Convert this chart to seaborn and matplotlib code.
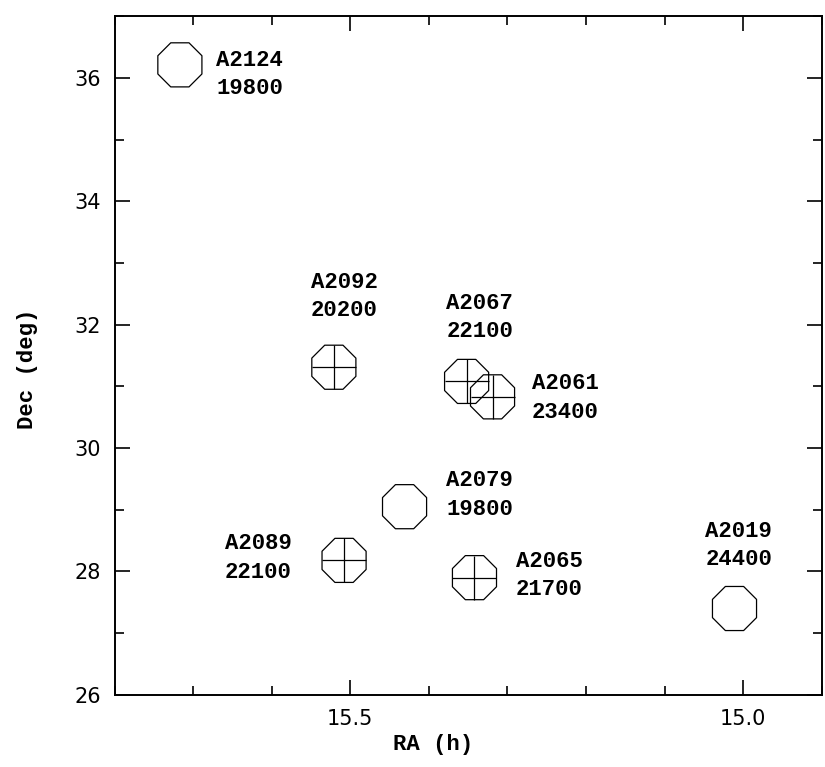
import matplotlib
matplotlib.use("Agg")
import matplotlib.pyplot as plt
from matplotlib.ticker import MultipleLocator, FormatStrFormatter
import seaborn as sns
import pandas as pd

# ---- data ----
names = ["A2124", "A2092", "A2067", "A2061", "A2079", "A2089", "A2065", "A2019"]
velocity = ["19800", "20200", "22100", "23400", "19800", "22100", "21700", "24400"]
ra = [15.717, 15.521, 15.352, 15.319, 15.431, 15.508, 15.342, 15.011]
dec = [36.21, 31.31, 31.08, 30.83, 29.05, 28.18, 27.90, 27.40]
crossed = [False, True, True, True, False, True, True, False]
label_ra = [15.671, 15.550, 15.378, 15.269, 15.378, 15.660, 15.289, 15.048]
label_dec = [36.06, 32.45, 32.12, 30.81, 29.24, 28.22, 27.94, 28.42]

df = pd.DataFrame({"RA": ra, "Dec": dec, "name": names, "v": velocity,
                   "crossed": crossed})

sns.set_style("ticks")
plt.rcParams["font.family"] = ["DejaVu Sans"]
plt.rcParams.update({"text.color": "black", "axes.labelcolor": "black",
                     "xtick.color": "black", "ytick.color": "black",
                     "axes.edgecolor": "black"})

MONO = ["Liberation Mono", "DejaVu Sans Mono"]

fig = plt.figure(figsize=(8.25, 7.67), dpi=100)
ax = fig.add_axes([0.139, 0.094, 0.857, 0.885])

sns.scatterplot(data=df, x="RA", y="Dec", marker="8", s=1180,
                facecolor="none", edgecolor="black", linewidth=0.9,
                legend=False, ax=ax, zorder=3)
sns.scatterplot(data=df[df["crossed"]], x="RA", y="Dec", marker="+", s=1000,
                color="black", linewidth=0.9, legend=False, ax=ax, zorder=3)

for nm, vv, lx, ly in zip(names, velocity, label_ra, label_dec):
    ax.text(lx, ly, f"{nm}\n{vv}", ha="left", va="center",
            family=MONO, fontsize=16, fontweight="bold",
            linespacing=1.45, color="black")

ax.set_xlim(15.8, 14.9)
ax.set_ylim(26, 37)
ax.xaxis.set_major_locator(MultipleLocator(0.5))
ax.xaxis.set_minor_locator(MultipleLocator(0.1))
ax.xaxis.set_major_formatter(FormatStrFormatter("%.1f"))
ax.yaxis.set_major_locator(MultipleLocator(2))
ax.yaxis.set_minor_locator(MultipleLocator(1))
ax.yaxis.set_major_formatter(FormatStrFormatter("%d"))

ax.tick_params(which="both", direction="in", top=True, right=True,
               color="black", width=1.2, labelcolor="black")
ax.tick_params(which="major", length=11, labelsize=15, pad=10)
ax.tick_params(which="minor", length=6.5)
for sp in ax.spines.values():
    sp.set_linewidth(1.4)
    sp.set_color("black")

ax.set_xlabel("RA (h)", family=MONO, fontsize=16, fontweight="bold",
              color="black")
ax.set_ylabel("Dec (deg)", family=MONO, fontsize=16, fontweight="bold",
              color="black")
ax.xaxis.set_label_coords(0.45, -0.058)
ax.yaxis.set_label_coords(-0.108, 0.48)

fig.savefig("out.png", dpi=100)
